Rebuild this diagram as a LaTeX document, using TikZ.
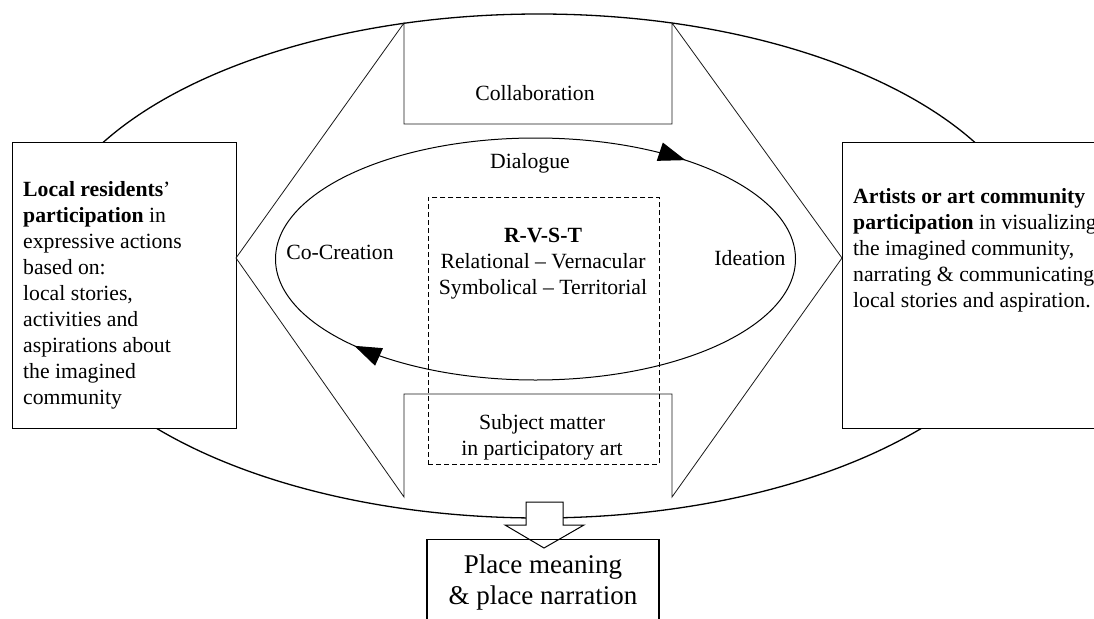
\documentclass[tikz,border=0pt]{standalone}
\usepackage{fontspec}
\setmainfont{Liberation Serif}
\usepackage{tikz}
\usetikzlibrary{arrows.meta, decorations.markings}

\newcommand{\bodyfont}{\fontsize{21.7}{26}\selectfont}
\newcommand{\placefont}{\fontsize{27}{31}\selectfont}

\tikzset{
    box/.style={draw, line width=1.3pt, fill=white, inner sep=0pt},
    chevron/.style={draw, line width=0.8pt, black!90},
    dashedbox/.style={draw, line width=0.9pt, dash pattern=on 5pt off 3pt, inner sep=0pt},
    cycleline/.style={line width=1pt, postaction={decorate},
        decoration={markings,
            mark=at position 0.127 with {\arrowreversed{Triangle[length=27pt, width=19pt]}},
            mark=at position 0.60 with {\arrowreversed{Triangle[length=27pt, width=19pt]}}}}
}

\begin{document}
    \begin{tikzpicture}[x=1pt, y=1pt, every node/.style={font=\bodyfont, inner sep=0pt}]
        \clip (0,0) rectangle (1094,-618);

        \draw[line width=1.3pt] (539,-266) ellipse [x radius=500, y radius=252];

        \node[box, minimum width=224pt, minimum height=286pt, anchor=north west] (residents) at (12,-142) {};
        \node[box, minimum width=280pt, minimum height=286pt, anchor=north west] (artists) at (842,-142) {};

        \node[anchor=north west, align=left] (residentstext) at (23,-181) {\textbf{Local residents}’\\\textbf{participation} in\\expressive actions\\based on:\\local stories,\\activities and\\aspirations about\\the imagined\\community};
        \node[anchor=north west, align=left] (artiststext) at (853,-188) {\textbf{Artists or art community}\\\textbf{participation} in visualizing\\the imagined community,\\narrating \& communicating\\local stories and aspiration.};

        \coordinate (lapex) at (236,-258);
        \coordinate (rapex) at (842,-258);
        \draw[chevron] (lapex) -- (404,-23) -- (404,-124) -- (672,-124) -- (672,-23) -- (rapex);
        \draw[chevron] (lapex) -- (404,-497) -- (404,-394) -- (672,-394) -- (672,-497) -- (rapex);

        \draw[cycleline] (535.5,-259) ellipse [x radius=260, y radius=121];

        \node[dashedbox, minimum width=231pt, minimum height=267pt, anchor=north west] (rvstframe) at (428,-197) {};

        \node[anchor=base] (collab) at (535,-100) {Collaboration};
        \node[anchor=base] (dialogue) at (530,-168) {Dialogue};
        \node[anchor=base] (cocreation) at (340,-259) {Co-Creation};
        \node[anchor=base] (ideation) at (750,-265) {Ideation};
        \node[anchor=north, align=center] (rvst) at (543,-228) {\textbf{R-V-S-T}\\Relational – Vernacular\\Symbolical – Territorial};
        \node[anchor=north, align=center] (subject) at (542,-414) {Subject matter\\in participatory art};

        \draw[line width=1pt, fill=white] (526,-502) -- (563,-502) -- (563,-525) -- (584,-525) -- (544,-548) -- (505,-525) -- (526,-525) -- cycle;
        \node[draw, line width=1.2pt, minimum width=232pt, minimum height=85pt, anchor=north, align=center, font=\placefont] (place) at (543,-539) {Place meaning\\\& place narration};
    \end{tikzpicture}
\end{document}
